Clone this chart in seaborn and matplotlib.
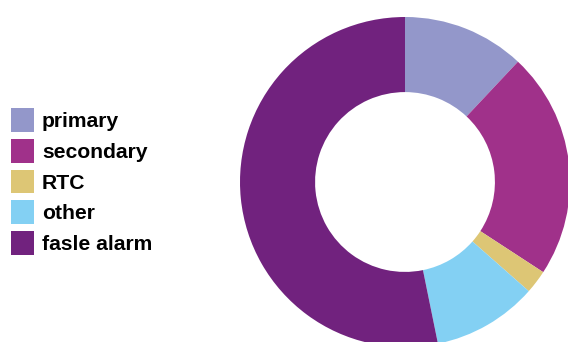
import matplotlib
matplotlib.use("Agg")
import matplotlib.pyplot as plt
import seaborn as sns
from matplotlib.patches import Patch

labels = ["primary", "secondary", "RTC", "other", "fasle alarm"]
values = [12.0, 22.2, 2.3, 10.3, 53.2]
colors = ["#9397CA", "#A0318A", "#DDC675", "#83D0F3", "#71227E"]

sns.set_theme(style="white")
plt.rcParams["font.family"] = ["Liberation Sans", "DejaVu Sans"]

W, H = 568, 342
fig = plt.figure(figsize=(W / 100, H / 100), dpi=100)
fig.patch.set_facecolor("white")

cx, cy, R = 405, 182, 165
ax = fig.add_axes([(cx - R) / W, (H - cy - R) / H, 2 * R / W, 2 * R / H])
ax.pie(values, colors=sns.color_palette(colors), startangle=90, counterclock=False,
       radius=1.0, wedgeprops=dict(width=0.455, linewidth=0, antialiased=True))
ax.set_xlim(-1, 1)
ax.set_ylim(-1, 1)
ax.set_aspect("equal")
ax.axis("off")
for p in ax.patches:
    p.set_clip_on(False)

handles = [Patch(facecolor=c, edgecolor="none") for c in colors]
fs = 15.2
leg = fig.legend(handles, labels, loc="upper left", bbox_to_anchor=(11 / W, 1 - 108 / H),
                 frameon=False, borderpad=0, borderaxespad=0,
                 prop=dict(family=["Liberation Sans", "DejaVu Sans"], weight="bold", size=fs),
                 handlelength=1.09, handleheight=1.36, handletextpad=0.38, labelspacing=0.33)
for t in leg.get_texts():
    t.set_color("black")

fig.savefig("out.png", dpi=100, facecolor="white")
